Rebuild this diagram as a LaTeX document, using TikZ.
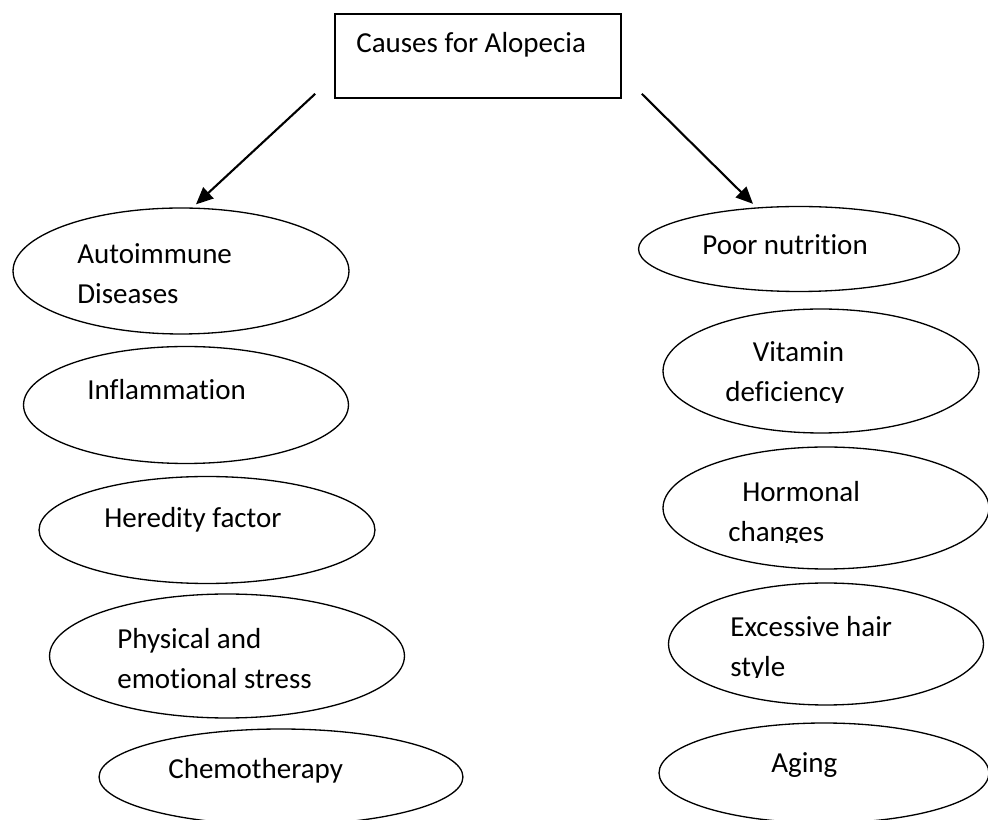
\documentclass[tikz,border=0pt]{standalone}
\usepackage{fontspec}
\setmainfont[Ligatures=NoCommon]{Carlito}
\usetikzlibrary{shapes.geometric,arrows.meta}

\begin{document}
\begin{tikzpicture}[
    x=0.02cm, y=-0.02cm,
    title/.style={
        rectangle,
        draw,
        line width=0.9pt,
        inner sep=0pt,
        minimum width=5.72cm,
        minimum height=1.68cm,
    },
    cause/.style={
        ellipse,
        draw,
        line width=0.75pt,
        inner sep=0pt,
    },
    txt/.style={
        anchor=base west,
        inner sep=0pt,
        align=left,
        font=\fontsize{16.5}{23.3}\selectfont,
    },
    arr/.style={
        line width=1.2pt,
        -{Triangle[length=0.34cm,width=0.3cm]},
    },
]
\useasboundingbox (0,0) rectangle (988,820);

\node[title] (causes) at (478,56) {};
\node[txt] (causestxt) at (356,53) {Causes for Alopecia};

% left column
\node[cause, minimum width=6.72cm, minimum height=2.52cm] (autoimm) at (181,271) {};
\node[cause, minimum width=6.5cm,  minimum height=2.34cm] (inflam)  at (186,405) {};
\node[cause, minimum width=6.72cm, minimum height=2.14cm] (hered)   at (207,530) {};
\node[cause, minimum width=7.1cm,  minimum height=2.48cm] (stress)  at (227,656) {};
\node[cause, minimum width=7.28cm, minimum height=1.92cm] (chemo)   at (281,777) {};

% two-line texts are placed by their last baseline
\node[txt] (autoimmtxt) at (77,304)  {Autoimmune\\Diseases};
\node[txt] (inflamtxt)  at (87,400)  {Inflammation};
\node[txt] (heredtxt)   at (104,528) {Heredity factor};
\node[txt] (stresstxt)  at (117,689) {Physical and\\emotional stress};
\node[txt] (chemotxt)   at (168,779) {Chemotherapy};

% right column
\node[cause, minimum width=6.42cm, minimum height=1.7cm]  (poor)    at (799,249) {};
\node[cause, minimum width=6.32cm, minimum height=2.48cm] (vitamin) at (821,371) {};
\node[cause, minimum width=6.52cm, minimum height=2.44cm] (hormon)  at (826,508) {};
\node[cause, minimum width=6.3cm,  minimum height=2.44cm] (hair)    at (826,644) {};
\node[cause, minimum width=6.6cm,  minimum height=2.0cm]  (aging)   at (824,773) {};

\node[txt] (poortxt) at (702,255) {Poor nutrition};
\begin{scope}
    \clip (600,300) rectangle (988,403);
    \node[txt, align=right] (vitamintxt) at (725,402) {Vitamin\\deficiency};
\end{scope}
\begin{scope}
    \clip (600,440) rectangle (988,543);
    \node[txt] (hormontxt) at (728,542) {\hspace*{0.28cm}Hormonal\\changes};
\end{scope}
\begin{scope}
    \clip (600,580) rectangle (988,678);
    \node[txt] (hairtxt) at (730,677) {Excessive hair\\style};
\end{scope}
\node[txt] (agingtxt) at (771,773) {Aging};

\draw[arr] ([shift={(-19,-5)}]causes.south west) -- ([shift={(15,-3)}]autoimm.north);
\draw[arr] ([shift={(20,-5)}]causes.south east) -- ([shift={(-46,-2)}]poor.north);

\end{tikzpicture}
\end{document}
